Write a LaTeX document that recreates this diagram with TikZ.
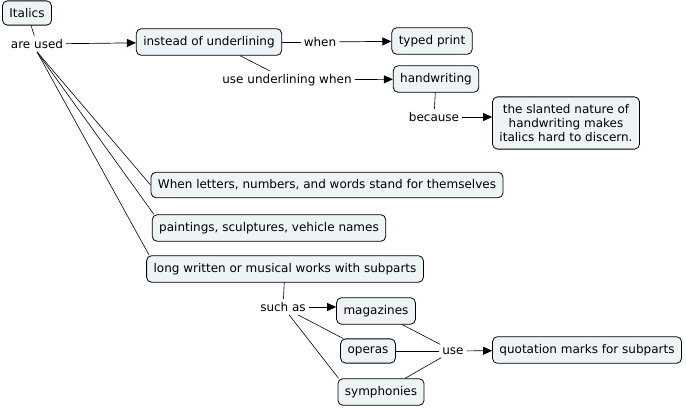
\documentclass[tikz,border=0pt]{standalone}
\usepackage{fontspec}
\setmainfont{DejaVu Sans}
\usepackage{tikz}
\usetikzlibrary{shapes.geometric, arrows, arrows.meta}
\definecolor{cfill}{HTML}{EEF3F6}
\tikzstyle{concept} = [draw, fill=cfill, rounded corners=5pt, line width=0.8pt, inner xsep=7pt, inner ysep=7.5pt, align=center, font=\fontsize{12}{14}\selectfont]
\tikzstyle{link} = [inner sep=3pt, font=\fontsize{12}{14}\selectfont]
\tikzstyle{arrow} = [line width=0.7pt,->,>={Triangle[length=9pt,width=8pt]}]
\tikzstyle{plain} = [line width=0.6pt]

\begin{document}
\begin{tikzpicture}[x=1pt, y=-1pt]
        \useasboundingbox (0,0) rectangle (686,408);
        % concepts
        \node[concept] (ital) at (27,13) {Italics};
        \node[concept] (instead) at (209,42) {instead of underlining};
        \node[concept] (typed) at (432,41) {typed print};
        \node[concept] (hand) at (436,79) {handwriting};
        \node[concept] (slant) at (566,123) {the slanted nature of\\handwriting makes\\italics hard to discern.};
        \node[concept] (letters) at (327,185) {When letters, numbers, and words stand for themselves};
        \node[concept] (paint) at (269,228) {paintings, sculptures, vehicle names};
        \node[concept] (works) at (285,269) {long written or musical works with subparts};
        \node[concept] (mag) at (376,311) {magazines};
        \node[concept] (opera) at (368,351) {operas};
        \node[concept] (symph) at (381,392) {symphonies};
        \node[concept] (quote) at (587,350) {quotation marks for subparts};
        % linking phrases
        \node[link] (used) at (37,44) {are used};
        \node[link] (when) at (320,42) {when};
        \node[link] (usewhen) at (287,80) {use underlining when};
        \node[link] (because) at (434,117) {because};
        \node[link] (such) at (283,307) {such as};
        \node[link] (use) at (453,351) {use};
        % connections
        \draw[plain] (ital) -- (used);
        \draw[arrow] (used) -- (instead);
        \draw[plain] (used.south) -- (letters.west);
        \draw[plain] (used.south) -- ([xshift=2pt]paint.north west);
        \draw[plain] (used.south) -- ([xshift=3pt]works.north west);
        \draw[plain] (instead) -- (when);
        \draw[arrow] (when) -- (typed);
        \draw[plain] ([xshift=31pt]instead.south) -- ([xshift=-17pt]usewhen.north);
        \draw[arrow] (usewhen) -- (hand);
        \draw[plain] (hand) -- (because);
        \draw[arrow] (because) -- (because -| slant.west);
        \draw[plain] (works) -- (such);
        \draw[arrow] (such) -- (such -| mag.west);
        \draw[plain] (such) -- ([xshift=3pt]opera.north west);
        \draw[plain] (such) -- ([xshift=1pt]symph.north west);
        \draw[plain] (mag) -- (use);
        \draw[plain] (opera) -- (use);
        \draw[plain] (symph) -- (use);
        \draw[arrow] (use) -- (quote);
\end{tikzpicture}
\end{document}
